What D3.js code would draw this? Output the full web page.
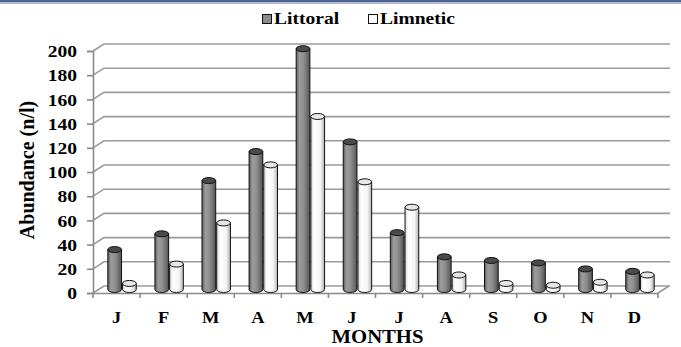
<!DOCTYPE html>
<html>
<head>
<meta charset="utf-8">
<script src="https://cdn.jsdelivr.net/npm/d3@7"></script>
<style>
  body { margin: 0; background: #fff; }
  svg text { font-family: "Liberation Serif", "Times New Roman", serif; font-weight: bold; fill: #000; }
</style>
</head>
<body>
<div class="chart"></div>
<script>
const width = 681,
    height = 347,
    margin = { top: 51, bottom: 54, left: 93, right: 12 },
    depth = { x: 11, y: -7 },
    stretch = 1.15;

const months = ["J", "F", "M", "A", "M", "J", "J", "A", "S", "O", "N", "D"];
const series = ["Littoral", "Limnetic"];
const littoral = [33, 46, 90, 114, 199, 122, 47, 27, 24, 22, 17, 15];
const limnetic = [5, 21, 55, 103, 143, 89, 68, 12, 5, 3.5, 6, 12];
const yTicks = [0, 20, 40, 60, 80, 100, 120, 140, 160, 180, 200];

const data = months.map((m, i) => ({ key: i, month: m, Littoral: littoral[i], Limnetic: limnetic[i] }));

const svg = d3.select(".chart")
    .append("svg")
    .attr("width", width)
    .attr("height", height);

// top border band
svg.append("rect").attr("x", 0).attr("y", 0).attr("width", width).attr("height", 2).attr("fill", "#4d6399");
svg.append("rect").attr("x", 0).attr("y", 2).attr("width", width).attr("height", 2).attr("fill", "#b4bccb");

const defs = svg.append("defs");
const gradLit = defs.append("linearGradient").attr("id", "gLit");
[["0%", "#5e5e5e"], ["25%", "#9c9c9c"], ["55%", "#8e8e8e"], ["100%", "#555"]].forEach(s =>
    gradLit.append("stop").attr("offset", s[0]).attr("stop-color", s[1]));
const gradLim = defs.append("linearGradient").attr("id", "gLim");
[["0%", "#d8d8d8"], ["25%", "#ffffff"], ["70%", "#f4f4f4"], ["100%", "#b0b0b0"]].forEach(s =>
    gradLim.append("stop").attr("offset", s[0]).attr("stop-color", s[1]));

const y = d3.scaleLinear()
    .domain([0, 200])
    .range([height - margin.bottom, margin.top]);

const x0 = d3.scaleBand()
    .domain(data.map(d => d.key))
    .range([margin.left, width - margin.right - depth.x])
    .paddingInner(0.375)
    .paddingOuter(0.1875);

const x1 = d3.scaleBand()
    .domain(series)
    .range([0, x0.bandwidth()]);

// back wall grid lines with floor slant
svg.append("g")
    .selectAll("path.grid")
    .data(yTicks)
    .join("path")
    .attr("class", "grid")
    .attr("fill", "none")
    .attr("stroke", "#9a9a9a")
    .attr("stroke-width", 1.6)
    .attr("d", t => {
        const x = margin.left, yy = y(t);
        return `M${x},${yy}L${x + depth.x},${yy + depth.y}H${width - margin.right + 1}`;
    });

// right floor edge
const xEnd = width - margin.right - depth.x;
svg.append("path")
    .attr("fill", "none")
    .attr("stroke", "#9a9a9a")
    .attr("stroke-width", 1.6)
    .attr("d", `M${xEnd},${y(0)}L${xEnd + depth.x},${y(0) + depth.y}`);

// y axis
const yAxis = svg.append("g")
    .attr("transform", `translate(${margin.left},0)`)
    .call(d3.axisLeft(y).tickValues(yTicks).tickSize(6));
yAxis.select(".domain").attr("stroke", "#8a8a8a").attr("stroke-width", 1.6);
yAxis.selectAll(".tick line").attr("stroke", "#8a8a8a").attr("stroke-width", 1.6);
yAxis.selectAll(".tick text")
    .style("font-size", "17px")
    .attr("x", -16 / stretch)
    .attr("dy", "0.34em")
    .attr("transform", `scale(${stretch},1)`);

// x axis (front floor edge)
const xAxis = svg.append("g")
    .attr("transform", `translate(0,${y(0)})`)
    .call(d3.axisBottom(x0).tickSize(0).tickPadding(19).tickFormat(i => months[i]));
xAxis.select(".domain").attr("stroke", "#8a8a8a").attr("stroke-width", 1.6);
xAxis.selectAll(".tick text")
    .style("font-size", "16px")
    .attr("transform", `scale(${stretch},1)`);

const gap = (x0.step() - x0.bandwidth()) / 2;
xAxis.selectAll("line.bound")
    .data(d3.range(months.length + 1))
    .join("line")
    .attr("class", "bound")
    .attr("x1", i => (i < months.length ? x0(i) - gap : x0(i - 1) + x0.bandwidth() + gap))
    .attr("x2", i => (i < months.length ? x0(i) - gap : x0(i - 1) + x0.bandwidth() + gap))
    .attr("y1", 0)
    .attr("y2", 5)
    .attr("stroke", "#8a8a8a")
    .attr("stroke-width", 1.6);

// cylinders
const ry = 3;
const bars = svg.append("g")
    .selectAll("g.month")
    .data(data)
    .join("g")
    .attr("class", "month")
    .attr("transform", d => `translate(${x0(d.key) + depth.x / 2},${depth.y / 2})`);

const cyl = bars.selectAll("g.cyl")
    .data(d => series.map(s => ({ s, v: d[s] })))
    .join("g")
    .attr("class", "cyl");

cyl.append("path")
    .attr("fill", d => d.s === "Littoral" ? "url(#gLit)" : "url(#gLim)")
    .attr("stroke", "#111")
    .attr("stroke-width", 1)
    .attr("d", d => {
        const xl = x1(d.s) + 0.5, w = x1.bandwidth() - 1, rx = w / 2;
        const yt = y(d.v), yb = y(0);
        return `M${xl},${yt}V${yb}A${rx},${ry} 0 0 0 ${xl + w},${yb}V${yt}Z`;
    });

cyl.append("ellipse")
    .attr("cx", d => x1(d.s) + x1.bandwidth() / 2)
    .attr("cy", d => y(d.v))
    .attr("rx", x1.bandwidth() / 2 - 0.5)
    .attr("ry", ry)
    .attr("fill", d => d.s === "Littoral" ? "#4a4a4a" : "#e6e6e6")
    .attr("stroke", "#111")
    .attr("stroke-width", 1);

// axis titles
svg.append("text")
    .attr("transform", `translate(34,${(y(0) + y(200)) / 2 - 2})rotate(-90)`)
    .attr("text-anchor", "middle")
    .style("font-size", "20px")
    .text("Abundance (n/l)");

svg.append("text")
    .attr("transform", `translate(${(margin.left + xEnd) / 2 + 2},343) scale(${stretch},1)`)
    .attr("text-anchor", "middle")
    .style("font-size", "18px")
    .text("MONTHS");

// legend
const legend = svg.append("g").attr("transform", "translate(262,11)");
const legX = { Littoral: 0, Limnetic: 106 };
series.forEach(s => {
    const g = legend.append("g").attr("transform", `translate(${legX[s]},0)`);
    g.append("rect")
        .attr("x", 0.5).attr("y", 3.5)
        .attr("width", 9).attr("height", 9)
        .attr("fill", s === "Littoral" ? "#8c8c8c" : "#fff")
        .attr("stroke", "#111");
    g.append("text")
        .attr("transform", `translate(12,13) scale(${stretch},1)`)
        .style("font-size", "17px")
        .text(s);
});
</script>
</body>
</html>
